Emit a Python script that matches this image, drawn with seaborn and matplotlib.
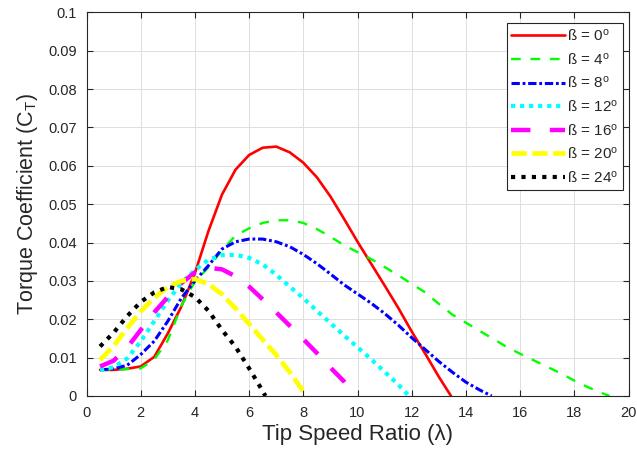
import numpy as np
import pandas as pd
import matplotlib
matplotlib.use("Agg")
import matplotlib.pyplot as plt
import seaborn as sns

# Torque coefficient vs tip speed ratio for pitch angles 0..24 deg
x_b0 = [0.5, 1, 1.5, 2, 2.5, 3, 3.5, 4, 4.5, 5, 5.5, 6, 6.5, 7, 7.5, 8, 8.5, 9, 9.5,
        10, 10.5, 11, 11.5, 12, 12.5, 13, 13.45]
ct_b0 = [0.0068, 0.0068, 0.0071, 0.0077, 0.0102, 0.0163, 0.0233, 0.0320, 0.0430, 0.0525,
         0.0590, 0.0628, 0.0647, 0.0650, 0.0635, 0.0608, 0.0570, 0.0520, 0.0462, 0.0402,
         0.0345, 0.0288, 0.0230, 0.0168, 0.0110, 0.0050, 0.0]

x_b4 = [0.5, 1, 1.5, 2, 2.5, 3, 3.5, 4, 4.5, 5, 5.5, 6, 6.5, 7, 7.5, 8, 8.5, 9, 9.5,
        10, 10.5, 11, 11.5, 12, 12.5, 13, 13.5, 14, 14.5, 15, 15.5, 16, 16.5, 17, 17.5,
        18, 18.5, 19, 19.3]
ct_b4 = [0.0068, 0.0068, 0.0070, 0.0072, 0.0095, 0.0145, 0.0235, 0.0298, 0.0335, 0.0380,
         0.0418, 0.0437, 0.0451, 0.0458, 0.0458, 0.0451, 0.0435, 0.0415, 0.0393, 0.0375,
         0.0357, 0.0336, 0.0315, 0.0292, 0.0270, 0.0240, 0.0212, 0.0191, 0.0170, 0.0149,
         0.0128, 0.0110, 0.0093, 0.0076, 0.0059, 0.0040, 0.0023, 0.0008, 0.0]

x_b8 = [0.5, 1, 1.5, 2, 2.5, 3, 3.5, 4, 4.5, 5, 5.5, 6, 6.5, 7, 7.5, 8, 8.5, 9, 9.5,
        10, 10.5, 11, 11.5, 12, 12.5, 13, 13.5, 14, 14.5, 14.95]
ct_b8 = [0.0068, 0.0071, 0.0080, 0.0108, 0.0143, 0.0195, 0.0255, 0.0300, 0.0340, 0.0383,
         0.0402, 0.0409, 0.0409, 0.0402, 0.0389, 0.0369, 0.0345, 0.0318, 0.0290, 0.0266,
         0.0242, 0.0215, 0.0185, 0.0152, 0.0121, 0.0090, 0.0062, 0.0036, 0.0016, 0.0]

x_b12 = [0.5, 1, 1.5, 2, 2.5, 3, 3.5, 4, 4.5, 5, 5.5, 6, 6.5, 7, 7.5, 8, 8.5, 9, 9.5,
         10, 10.5, 11, 11.5, 11.9]
ct_b12 = [0.0068, 0.0075, 0.0098, 0.0142, 0.0195, 0.0248, 0.0295, 0.0328, 0.0355, 0.0367,
          0.0368, 0.0360, 0.0343, 0.0316, 0.0285, 0.0255, 0.0222, 0.0190, 0.0158, 0.0127,
          0.0096, 0.0063, 0.0030, 0.0]

x_b16 = [0.5, 1, 1.5, 2, 2.5, 3, 3.5, 4, 4.5, 5, 5.5, 6, 6.5, 7, 7.5, 8, 8.5, 9, 9.5, 9.9]
ct_b16 = [0.0077, 0.0092, 0.0126, 0.0172, 0.0218, 0.0258, 0.0294, 0.0322, 0.0334, 0.0330,
          0.0312, 0.0285, 0.0252, 0.0218, 0.0183, 0.0148, 0.0112, 0.0074, 0.0038, 0.0]

x_b20 = [0.5, 1, 1.5, 2, 2.5, 3, 3.5, 4, 4.5, 5, 5.5, 6, 6.5, 7, 7.5, 8, 8.05]
ct_b20 = [0.0094, 0.0130, 0.0177, 0.0220, 0.0256, 0.0284, 0.0300, 0.0305, 0.0292, 0.0265,
          0.0228, 0.0188, 0.0147, 0.0107, 0.0062, 0.0012, 0.0]

x_b24 = [0.5, 1, 1.5, 2, 2.5, 3, 3.5, 4, 4.5, 5, 5.5, 6, 6.5, 6.6]
ct_b24 = [0.0129, 0.0165, 0.0208, 0.0245, 0.0270, 0.0284, 0.0278, 0.0258, 0.0222, 0.0172,
          0.0128, 0.0072, 0.0013, 0.0]

labels = ['ß = 0$^\\mathrm{o}$', 'ß = 4$^\\mathrm{o}$', 'ß = 8$^\\mathrm{o}$', 'ß = 12$^\\mathrm{o}$',
          'ß = 16$^\\mathrm{o}$', 'ß = 20$^\\mathrm{o}$', 'ß = 24$^\\mathrm{o}$']
xs = [x_b0, x_b4, x_b8, x_b12, x_b16, x_b20, x_b24]
ys = [ct_b0, ct_b4, ct_b8, ct_b12, ct_b16, ct_b20, ct_b24]

# MATLAB-like look
sns.set_theme(style="whitegrid")
plt.rcParams['font.family'] = ['Liberation Sans', 'DejaVu Sans']
plt.rcParams['mathtext.fontset'] = 'custom'
plt.rcParams['mathtext.rm'] = 'Liberation Sans'
plt.rcParams['mathtext.it'] = 'Liberation Sans'
plt.rcParams['lines.scale_dashes'] = False

colors = ['#ff0000', '#00ff00', '#0000ff', '#00ffff', '#ff00ff', '#ffff00', '#000000']
widths = [1.9, 1.7, 2.2, 3.0, 3.2, 3.4, 3.0]
dash_styles = [None, (7, 7), (6, 2, 2, 2), (3, 3.5), (14, 14), (11, 4), (3, 4.5)]

fig = plt.figure(figsize=(6.37, 4.54), dpi=100)
ax = fig.add_axes([0.1358, 0.1278, 0.8509, 0.8451])

for xv, yv, lab, c, lw, ds in zip(xs, ys, labels, colors, widths, dash_styles):
    df = pd.DataFrame({'x': xv, 'y': yv})
    line_kw = dict(color=c, linewidth=lw, label=lab)
    if ds is not None:
        line_kw['dashes'] = ds
    sns.lineplot(data=df, x='x', y='y', ax=ax, **line_kw)
    ax.lines[-1].set_dash_capstyle('butt')

ax.set_xlim(0, 20)
ax.set_ylim(0, 0.1)
ax.set_xticks(np.arange(0, 21, 2))
ax.set_yticks(np.arange(0, 0.101, 0.01))
ax.set_yticklabels(['0'] + [f'{v:.2f}' for v in np.arange(0.01, 0.091, 0.01)] + ['0.1'])
ax.set_facecolor('white')
ax.grid(True, color='#dedede', linewidth=0.7)
for s in ax.spines.values():
    s.set_color('#262626')
    s.set_linewidth(0.8)
    s.set_visible(True)
ax.tick_params(direction='in', length=4, width=0.8, color='#262626', labelcolor='#262626',
               labelsize=10.5, top=True, right=True, bottom=True, left=True, pad=7)

ax.set_xlabel('Tip Speed Ratio (λ)', fontsize=16, color='#262626', labelpad=3)
ax.set_ylabel('Torque Coefficient (C$_\\mathrm{T}$)', fontsize=15.5, color='#262626', labelpad=6)

leg = ax.legend(loc='upper right', bbox_to_anchor=(0.990, 0.972), borderaxespad=0,
                fontsize=11, handlelength=3.5, labelspacing=0.5, handletextpad=0.15,
                fancybox=False, framealpha=1, borderpad=0.3)
leg.get_frame().set_edgecolor('#262626')
leg.get_frame().set_linewidth(0.8)

fig.savefig('out.png', dpi=100)
